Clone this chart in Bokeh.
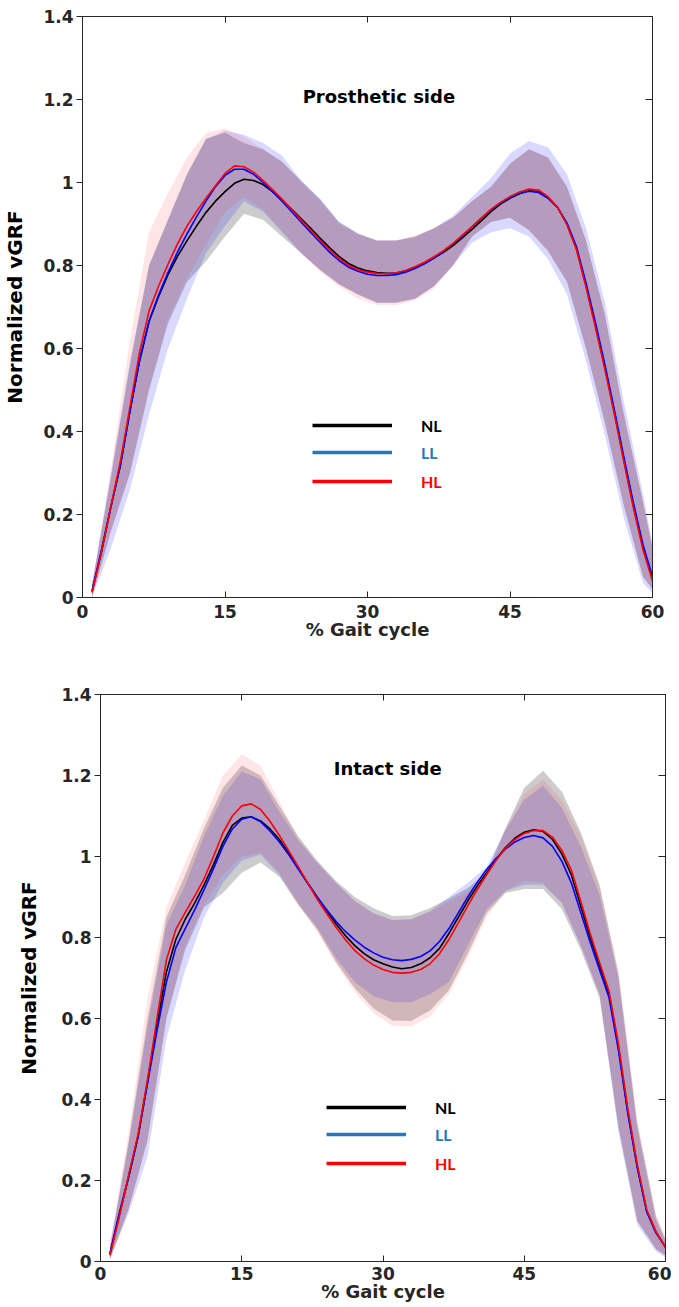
from bokeh.plotting import figure
from bokeh.models import (Range1d, LinearAxis, FixedTicker, CustomJSTickFormatter,
                          Label, Legend, LegendItem)
from bokeh.embed import file_html
from bokeh.resources import INLINE

# ---------------- data ----------------
x = list(range(1, 61))
xb = [1, 3, 5, 7, 9, 11, 13, 15, 17, 19, 21, 23, 25, 27, 29, 31, 33, 35, 37, 39,
      41, 43, 45, 47, 49, 51, 53, 55, 57, 59, 60]
x_ticks = [0, 15, 30, 45, 60]
y_ticks = [0, 0.2, 0.4, 0.6, 0.8, 1.0, 1.2, 1.4]
series = ["NL", "LL", "HL"]
panel_titles = ["Prosthetic side", "Intact side"]
x_label = "% Gait cycle"
y_label = "Normalized vGRF"

# Prosthetic side: mean curves
p_nl_mean = [0.015, 0.11, 0.22, 0.32, 0.45, 0.57, 0.665, 0.725, 0.778, 0.822,
             0.86, 0.895, 0.928, 0.955, 0.978, 0.998, 1.008, 1.005, 0.995, 0.978,
             0.958, 0.936, 0.913, 0.89, 0.866, 0.843, 0.822, 0.805, 0.794, 0.787,
             0.783, 0.781, 0.782, 0.787, 0.795, 0.805, 0.818, 0.832, 0.848, 0.867,
             0.887, 0.908, 0.93, 0.948, 0.962, 0.973, 0.98, 0.978, 0.963, 0.94,
             0.9, 0.84, 0.752, 0.655, 0.555, 0.445, 0.33, 0.22, 0.12, 0.045]
p_ll_mean = [0.015, 0.115, 0.22, 0.32, 0.45, 0.57, 0.665, 0.728, 0.783, 0.832,
             0.876, 0.917, 0.955, 0.99, 1.017, 1.032, 1.032, 1.02, 1.0, 0.978,
             0.955, 0.93, 0.905, 0.88, 0.856, 0.832, 0.812, 0.796, 0.786, 0.779,
             0.776, 0.776, 0.778, 0.784, 0.793, 0.804, 0.818, 0.834, 0.852, 0.872,
             0.893, 0.914, 0.934, 0.951, 0.964, 0.974, 0.979, 0.976, 0.962, 0.94,
             0.902, 0.845, 0.758, 0.662, 0.56, 0.45, 0.337, 0.227, 0.127, 0.05]
p_hl_mean = [0.012, 0.11, 0.22, 0.33, 0.46, 0.59, 0.69, 0.75, 0.803, 0.852,
             0.895, 0.93, 0.962, 0.992, 1.022, 1.04, 1.038, 1.025, 1.005, 0.983,
             0.96, 0.935, 0.91, 0.886, 0.861, 0.838, 0.817, 0.8, 0.79, 0.784,
             0.781, 0.78, 0.782, 0.788, 0.797, 0.808, 0.821, 0.836, 0.853, 0.873,
             0.893, 0.915, 0.935, 0.952, 0.966, 0.977, 0.984, 0.982, 0.966, 0.94,
             0.898, 0.838, 0.748, 0.65, 0.548, 0.44, 0.325, 0.215, 0.115, 0.04]

# Prosthetic side: shaded bands (lower / upper)
p_nl_lo = [0.0, 0.16, 0.3, 0.5, 0.66, 0.76, 0.81, 0.87, 0.925, 0.91, 0.87, 0.83, 0.79,
           0.755, 0.73, 0.71, 0.71, 0.72, 0.75, 0.8, 0.87, 0.905, 0.915, 0.885, 0.835,
           0.76, 0.6, 0.42, 0.22, 0.05, 0.02]
p_nl_hi = [0.03, 0.29, 0.56, 0.8, 0.91, 1.02, 1.105, 1.12, 1.095, 1.08, 1.05, 1.005,
           0.96, 0.905, 0.877, 0.86, 0.86, 0.87, 0.89, 0.915, 0.955, 0.99, 1.045, 1.08,
           1.06, 0.99, 0.86, 0.68, 0.44, 0.23, 0.12]
p_ll_lo = [0.0, 0.12, 0.26, 0.44, 0.6, 0.72, 0.83, 0.895, 0.955, 0.93, 0.88, 0.83, 0.79,
           0.755, 0.73, 0.71, 0.71, 0.72, 0.75, 0.8, 0.855, 0.88, 0.89, 0.87, 0.815,
           0.73, 0.57, 0.39, 0.19, 0.035, 0.01]
p_ll_hi = [0.03, 0.3, 0.57, 0.8, 0.91, 1.02, 1.105, 1.125, 1.115, 1.095, 1.065, 1.005,
           0.96, 0.905, 0.877, 0.86, 0.86, 0.868, 0.89, 0.92, 0.965, 1.01, 1.07, 1.1,
           1.085, 1.02, 0.89, 0.71, 0.47, 0.25, 0.13]
p_hl_lo = [0.0, 0.16, 0.3, 0.5, 0.67, 0.77, 0.85, 0.93, 0.965, 0.935, 0.885, 0.83, 0.785,
           0.75, 0.72, 0.705, 0.705, 0.715, 0.745, 0.8, 0.87, 0.905, 0.915, 0.885, 0.835,
           0.76, 0.6, 0.42, 0.22, 0.05, 0.02]
p_hl_hi = [0.03, 0.31, 0.62, 0.88, 0.975, 1.06, 1.12, 1.13, 1.11, 1.08, 1.05, 1.0,
           0.955, 0.9, 0.875, 0.86, 0.86, 0.872, 0.89, 0.915, 0.955, 0.99, 1.045, 1.08,
           1.06, 0.99, 0.86, 0.68, 0.44, 0.23, 0.12]

# Intact side: mean curves
i_nl_mean = [0.018, 0.115, 0.21, 0.31, 0.445, 0.585, 0.715, 0.795, 0.845, 0.885,
             0.93, 0.98, 1.035, 1.077, 1.095, 1.098, 1.088, 1.068, 1.042, 1.008,
             0.971, 0.935, 0.9, 0.866, 0.834, 0.805, 0.78, 0.76, 0.745, 0.735,
             0.727, 0.723, 0.726, 0.735, 0.75, 0.773, 0.81, 0.85, 0.89, 0.927,
             0.96, 0.992, 1.022, 1.045, 1.06, 1.066, 1.062, 1.042, 1.006, 0.955,
             0.878, 0.8, 0.73, 0.66, 0.53, 0.37, 0.235, 0.125, 0.072, 0.035]
i_ll_mean = [0.02, 0.12, 0.21, 0.31, 0.44, 0.57, 0.69, 0.775, 0.822, 0.868,
             0.918, 0.97, 1.025, 1.068, 1.092, 1.098, 1.086, 1.063, 1.036, 1.004,
             0.969, 0.934, 0.9, 0.869, 0.84, 0.815, 0.794, 0.776, 0.762, 0.751,
             0.745, 0.743, 0.746, 0.753, 0.767, 0.79, 0.822, 0.861, 0.9, 0.936,
             0.968, 0.995, 1.018, 1.036, 1.047, 1.052, 1.046, 1.025, 0.988, 0.935,
             0.862, 0.788, 0.72, 0.652, 0.522, 0.365, 0.232, 0.123, 0.07, 0.036]
i_hl_mean = [0.015, 0.11, 0.215, 0.315, 0.45, 0.6, 0.745, 0.82, 0.862, 0.902,
             0.945, 1.0, 1.058, 1.1, 1.125, 1.13, 1.116, 1.087, 1.052, 1.014,
             0.975, 0.935, 0.895, 0.86, 0.826, 0.795, 0.768, 0.748, 0.732, 0.721,
             0.714, 0.712, 0.714, 0.721, 0.735, 0.76, 0.795, 0.836, 0.878, 0.918,
             0.955, 0.99, 1.02, 1.042, 1.057, 1.064, 1.064, 1.048, 1.015, 0.967,
             0.89, 0.81, 0.738, 0.668, 0.538, 0.376, 0.24, 0.128, 0.073, 0.035]

# Intact side: shaded bands (lower / upper)
i_nl_lo = [0.005, 0.13, 0.3, 0.6, 0.77, 0.875, 0.91, 0.96, 0.985, 0.95, 0.88, 0.82,
           0.74, 0.675, 0.625, 0.595, 0.594, 0.62, 0.67, 0.76, 0.86, 0.91, 0.92, 0.92,
           0.87, 0.77, 0.65, 0.33, 0.1, 0.03, 0.015]
i_nl_hi = [0.035, 0.3, 0.6, 0.85, 0.955, 1.07, 1.17, 1.225, 1.2, 1.125, 1.05, 0.99,
           0.94, 0.9, 0.872, 0.853, 0.855, 0.873, 0.896, 0.922, 0.96, 1.07, 1.17, 1.212,
           1.16, 1.06, 0.93, 0.71, 0.34, 0.11, 0.055]
i_ll_lo = [0.005, 0.12, 0.26, 0.55, 0.72, 0.85, 0.935, 0.99, 1.005, 0.955, 0.885, 0.825,
           0.75, 0.69, 0.655, 0.64, 0.64, 0.66, 0.69, 0.78, 0.87, 0.915, 0.93, 0.93,
           0.885, 0.78, 0.66, 0.32, 0.09, 0.025, 0.01]
i_ll_hi = [0.035, 0.29, 0.58, 0.83, 0.93, 1.05, 1.15, 1.21, 1.19, 1.11, 1.04, 0.985,
           0.935, 0.89, 0.86, 0.843, 0.845, 0.865, 0.9, 0.935, 0.975, 1.065, 1.14, 1.175,
           1.12, 1.025, 0.905, 0.7, 0.33, 0.1, 0.05]
i_hl_lo = [0.005, 0.13, 0.3, 0.6, 0.78, 0.88, 0.955, 1.0, 1.01, 0.96, 0.88, 0.815,
           0.735, 0.665, 0.613, 0.582, 0.58, 0.605, 0.66, 0.75, 0.85, 0.915, 0.94, 0.935,
           0.885, 0.78, 0.66, 0.34, 0.1, 0.03, 0.015]
i_hl_hi = [0.04, 0.32, 0.65, 0.875, 0.985, 1.09, 1.2, 1.252, 1.225, 1.135, 1.045, 0.985,
           0.935, 0.89, 0.86, 0.843, 0.845, 0.865, 0.888, 0.915, 0.955, 1.065, 1.155, 1.19,
           1.14, 1.05, 0.925, 0.72, 0.35, 0.115, 0.06]

# ---------------- styling ----------------
LINE_COLORS = {"NL": "black", "LL": "#0000ff", "HL": "#ff0000"}
BAND_STYLE = {"NL": ("black", 0.2), "LL": ("#0000ff", 0.15), "HL": ("#ff0000", 0.10)}
LEGEND_COLORS = {"NL": "black", "LL": "#2e75b6", "HL": "#ff0000"}
AX = "#262626"
FONT = "DejaVu Sans"


def style_axis(ax, tick_in, tick_out, standoff=3, show_labels=True):
    ax.axis_line_color = AX
    ax.axis_line_width = 1
    ax.major_tick_line_color = AX
    ax.major_tick_in = tick_in
    ax.major_tick_out = tick_out
    ax.minor_tick_line_color = None
    ax.major_label_text_font = FONT
    ax.major_label_text_font_style = "bold"
    if show_labels:
        ax.major_label_text_color = AX
        ax.major_label_text_font_size = "17px"
        ax.major_label_standoff = standoff
    else:
        ax.formatter = CustomJSTickFormatter(code="return '';")
        ax.major_label_text_color = None
        ax.major_label_text_alpha = 0
        ax.major_label_text_font_size = "1px"
        ax.major_label_standoff = 0


def make_panel(title, means, bands, frame_w, frame_h, mbl, mbr, mbt, mbb,
               title_pos, legend_x, legend_ys, ylab_standoff, xtick_standoff):
    p = figure(frame_width=frame_w, frame_height=frame_h,
               x_range=Range1d(0, 60), y_range=Range1d(0, 1.4),
               output_backend="svg", toolbar_location=None,
               min_border_left=mbl, min_border_right=mbr,
               min_border_top=mbt, min_border_bottom=mbb)
    p.grid.visible = False
    p.outline_line_color = None
    p.background_fill_color = "white"

    xa = p.xaxis[0]
    xa.ticker = FixedTicker(ticks=x_ticks)
    style_axis(xa, 6, 0, standoff=xtick_standoff)
    xa.axis_label = x_label
    xa.axis_label_text_font = FONT
    xa.axis_label_text_font_style = "bold"
    xa.axis_label_text_font_size = "18px"
    xa.axis_label_text_color = AX
    xa.axis_label_standoff = -2

    ya = p.yaxis[0]
    ya.ticker = FixedTicker(ticks=y_ticks)
    ya.formatter = CustomJSTickFormatter(code="return String(Math.round(tick*10)/10);")
    style_axis(ya, 0, 6, standoff=3)
    ya.axis_label = y_label
    ya.axis_label_text_font = FONT
    ya.axis_label_text_font_style = "bold"
    ya.axis_label_text_font_size = "20px"
    ya.axis_label_text_color = "black"
    ya.axis_label_standoff = ylab_standoff

    top = LinearAxis(ticker=FixedTicker(ticks=x_ticks))
    style_axis(top, 6, 0, show_labels=False)
    p.add_layout(top, "above")
    right = LinearAxis(ticker=FixedTicker(ticks=y_ticks))
    style_axis(right, 7, 0, show_labels=False)
    p.add_layout(right, "right")

    # shaded bands
    for s in series:
        lo, hi = bands[s]
        col, alpha = BAND_STYLE[s]
        p.varea(x=xb, y1=lo, y2=hi, fill_color=col, fill_alpha=alpha)
    # mean curves
    for s in series:
        p.line(x=x, y=means[s], line_color=LINE_COLORS[s], line_width=1.6)

    # panel title
    p.add_layout(Label(x=title_pos[0], y=title_pos[1], text=title, text_align="center",
                       text_baseline="middle", text_font=FONT, text_font_style="bold",
                       text_font_size="18px", text_color="black"))

    # legend: one legend per entry so each label keeps its own colour
    for s, ly in zip(series, legend_ys):
        dummy = p.line(x=[x[0]], y=[float("nan")], line_color=LEGEND_COLORS[s], line_width=3.5)
        leg = Legend(items=[LegendItem(label=s, renderers=[dummy])], location=(legend_x, ly),
                     background_fill_alpha=0, border_line_alpha=0, padding=0, margin=0,
                     spacing=0, glyph_width=80, glyph_height=20, label_height=20,
                     label_standoff=29, label_text_font="Lato", label_text_font_style="bold",
                     label_text_font_size="16px", label_text_color=LEGEND_COLORS[s],
                     label_text_baseline="middle")
        p.add_layout(leg)
    return p


p1 = make_panel(panel_titles[0],
                {"NL": p_nl_mean, "LL": p_ll_mean, "HL": p_hl_mean},
                {"NL": (p_nl_lo, p_nl_hi), "LL": (p_ll_lo, p_ll_hi), "HL": (p_hl_lo, p_hl_hi)},
                frame_w=570, frame_h=581, mbl=82, mbr=19, mbt=16, mbb=67,
                title_pos=(31.2, 1.207), legend_x=230, legend_ys=[162, 135, 106],
                ylab_standoff=13, xtick_standoff=7)

p2 = make_panel(panel_titles[1],
                {"NL": i_nl_mean, "LL": i_ll_mean, "HL": i_hl_mean},
                {"NL": (i_nl_lo, i_nl_hi), "LL": (i_ll_lo, i_ll_hi), "HL": (i_hl_lo, i_hl_hi)},
                frame_w=565, frame_h=567, mbl=100, mbr=6, mbt=30, mbb=46,
                title_pos=(30.5, 1.218), legend_x=226, legend_ys=[144, 117, 88],
                ylab_standoff=17, xtick_standoff=5)

open("out.html", "w").write(file_html([p1, p2], INLINE))
